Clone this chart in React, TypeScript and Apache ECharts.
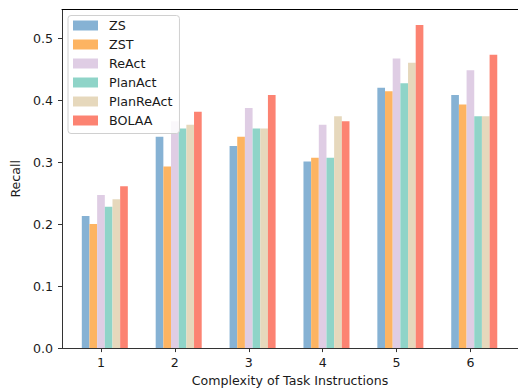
import React, { useEffect, useRef } from "react";
import * as echarts from "echarts";

const categories = [1, 2, 3, 4, 5, 6];
const seriesNames = ["ZS", "ZST", "ReAct", "PlanAct", "PlanReAct", "BOLAA"];
const zsValues = [0.213, 0.341, 0.326, 0.301, 0.42, 0.408];
const zstValues = [0.2, 0.293, 0.341, 0.307, 0.414, 0.393];
const reactValues = [0.247, 0.366, 0.387, 0.36, 0.467, 0.448];
const planActValues = [0.228, 0.354, 0.354, 0.307, 0.427, 0.374];
const planReActValues = [0.24, 0.36, 0.354, 0.374, 0.46, 0.374];
const bolaaValues = [0.261, 0.381, 0.408, 0.366, 0.521, 0.473];
const yTickValues = [0, 0.1, 0.2, 0.3, 0.4, 0.5];
const colors = ["#86b2d4", "#fdb462", "#dfcde4", "#8fd4c8", "#e6d8bc", "#fc8372"];

const FONT = "DejaVu Sans";

export default function App() {
  const ref = useRef<HTMLDivElement>(null);
  useEffect(() => {
    if (!ref.current) return;
    const chart = echarts.init(ref.current, undefined, { renderer: "svg" });
    const allValues = [zsValues, zstValues, reactValues, planActValues, planReActValues, bolaaValues];
    const barSeries: any[] = [
      {
        name: "__spacer",
        type: "bar",
        data: categories.map((c) => [c, "-"]),
        barWidth: 7.67,
        barGap: "0%",
        silent: true,
      },
      ...seriesNames.map((name, i) => ({
        name,
        type: "bar",
        data: categories.map((c, j) => [c, allValues[i][j]]),
        barWidth: 7.67,
        barGap: "0%",
        itemStyle: { color: colors[i] },
      })),
    ];
    chart.setOption({
      animation: false,
      textStyle: { fontFamily: FONT },
      grid: { left: 62, right: -4, top: 9.5, bottom: 40, containLabel: false },
      legend: {
        data: seriesNames,
        orient: "vertical",
        left: 68,
        top: 15.5,
        itemWidth: 25,
        itemHeight: 10,
        itemGap: 5,
        padding: [3, 7, 6, 5],
        backgroundColor: "rgba(255,255,255,0.85)",
        borderColor: "#d0d0d0",
        borderWidth: 1,
        borderRadius: 3,
        icon: "rect",
        selectedMode: false,
        textStyle: {
          fontFamily: FONT,
          fontSize: 12.7,
          color: "#1a1a1a",
          lineHeight: 14,
          padding: [0, 0, 0, 6],
        },
      },
      xAxis: [
        {
          type: "value",
          min: 0.4725,
          max: 6.644,
          position: "bottom",
          name: "Complexity of Task Instructions",
          nameLocation: "middle",
          nameGap: 23,
          nameTextStyle: { fontFamily: FONT, fontSize: 12.6, color: "#1a1a1a" },
          splitLine: { show: false },
          axisLine: { show: true, onZero: false, lineStyle: { color: "#333", width: 1 } },
          axisTick: { show: true, length: 4, customValues: categories, lineStyle: { color: "#333" } },
          axisLabel: {
            customValues: categories,
            margin: 8,
            fontFamily: FONT,
            fontSize: 12.6,
            color: "#1a1a1a",
            formatter: (v: number) => String(Math.round(v)),
          },
        },
        {
          type: "value",
          min: 0.4725,
          max: 6.644,
          position: "top",
          splitLine: { show: false },
          axisLine: { show: true, onZero: false, lineStyle: { color: "#000", width: 1 } },
          axisTick: { show: false },
          axisLabel: { show: false },
        },
      ],
      yAxis: {
        type: "value",
        min: 0,
        max: 0.546,
        interval: 0.1,
        name: "Recall",
        nameLocation: "middle",
        nameGap: 35,
        nameTextStyle: { fontFamily: FONT, fontSize: 12.6, color: "#1a1a1a" },
        splitLine: { show: false },
        axisLine: { show: true, onZero: false, lineStyle: { color: "#333", width: 1 } },
        axisTick: { show: true, length: 4, customValues: yTickValues, lineStyle: { color: "#333" } },
        axisLabel: {
          customValues: yTickValues,
          margin: 9,
          fontFamily: FONT,
          fontSize: 12.6,
          color: "#1a1a1a",
          formatter: (v: number) => v.toFixed(1),
        },
      },
      series: barSeries,
    });
    return () => chart.dispose();
  }, []);
  return <div ref={ref} style={{ width: 518, height: 392, position: "absolute", left: 0, top: 0 }} />;
}
